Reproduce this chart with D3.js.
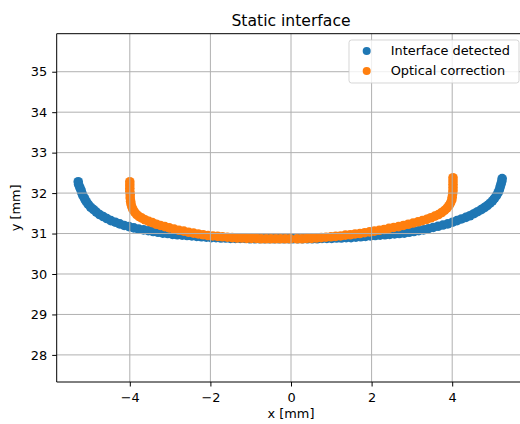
<!DOCTYPE html>
<html>
<head>
<meta charset="utf-8">
<script src="https://cdn.jsdelivr.net/npm/d3@7"></script>
<style>
  body { margin: 0; background: #fff; }
  svg { display: block; font-family: "DejaVu Sans", sans-serif; }
</style>
</head>
<body>
<div class="chartHolder"></div>
<script>
// detected interface points, left to right
var interfaceX = [-5.28, -5.27, -5.24, -5.21, -5.19, -5.16, -5.12, -5.08, -5.03, -4.97, -4.9, -4.83, -4.75, -4.66, -4.57, -4.47, -4.36, -4.25, -4.14, -4.02, -3.9, -3.78, -3.66, -3.54, -3.42, -3.3, -3.18, -3.06, -2.94, -2.82, -2.7, -2.58, -2.46, -2.34, -2.22, -2.1, -1.98, -1.86, -1.74, -1.62, -1.5, -1.38, -1.26, -1.14, -1.02, -0.9, -0.78, -0.66, -0.54, -0.42, -0.3, -0.18, -0.06,
  0.05, 0.17, 0.29, 0.41, 0.53, 0.65, 0.77, 0.89, 1.01, 1.13, 1.25, 1.37, 1.49, 1.61, 1.73, 1.85, 1.97, 2.09, 2.21, 2.33, 2.45, 2.57, 2.69, 2.81, 2.93, 3.05, 3.17, 3.29, 3.41, 3.53, 3.65, 3.77, 3.89, 4.01, 4.12, 4.23, 4.34, 4.44, 4.54, 4.63, 4.72, 4.8, 4.87, 4.94, 5.0, 5.05, 5.1, 5.14, 5.17, 5.19, 5.21, 5.23, 5.24];
var interfaceY = [32.28, 32.21, 32.14, 32.07, 32.0, 31.93, 31.86, 31.79, 31.72, 31.65, 31.59, 31.53, 31.47, 31.42, 31.37, 31.32, 31.28, 31.24, 31.2, 31.17, 31.14, 31.11, 31.09, 31.07, 31.05, 31.03, 31.01, 31.0, 30.98, 30.97, 30.96, 30.95, 30.94, 30.93, 30.92, 30.91, 30.9, 30.9, 30.89, 30.89, 30.88, 30.88, 30.88, 30.88, 30.87, 30.87, 30.87, 30.87, 30.87, 30.87, 30.87, 30.87, 30.87,
  30.87, 30.87, 30.87, 30.87, 30.87, 30.87, 30.88, 30.88, 30.88, 30.89, 30.89, 30.9, 30.9, 30.91, 30.92, 30.93, 30.94, 30.95, 30.96, 30.97, 30.98, 30.99, 31.0, 31.01, 31.03, 31.05, 31.07, 31.09, 31.12, 31.15, 31.18, 31.21, 31.24, 31.28, 31.32, 31.36, 31.4, 31.44, 31.49, 31.54, 31.59, 31.64, 31.69, 31.75, 31.81, 31.87, 31.94, 32.01, 32.08, 32.15, 32.22, 32.29, 32.36];

// optically corrected points, left to right
var opticalX = [-4.0, -4.0, -4.0, -4.0, -3.99, -3.99, -3.98, -3.97, -3.95, -3.92, -3.88, -3.83, -3.77, -3.7, -3.62, -3.53, -3.44, -3.34, -3.24, -3.13, -3.02, -2.9, -2.78, -2.66, -2.54, -2.42, -2.3, -2.18, -2.06, -1.94, -1.82, -1.7, -1.58, -1.46, -1.34, -1.22, -1.1, -0.98, -0.86, -0.74, -0.62, -0.5, -0.38, -0.26, -0.14, -0.02,
  0.15, 0.27, 0.39, 0.51, 0.63, 0.75, 0.87, 0.99, 1.11, 1.23, 1.35, 1.47, 1.59, 1.71, 1.83, 1.95, 2.07, 2.19, 2.31, 2.43, 2.55, 2.67, 2.79, 2.91, 3.03, 3.15, 3.26, 3.37, 3.47, 3.57, 3.66, 3.74, 3.81, 3.87, 3.92, 3.96, 3.99, 4.0, 4.01, 4.02, 4.02, 4.02, 4.02, 4.02];
var opticalY = [32.28, 32.2, 32.12, 32.04, 31.96, 31.88, 31.8, 31.73, 31.66, 31.59, 31.53, 31.47, 31.42, 31.38, 31.34, 31.3, 31.27, 31.23, 31.2, 31.17, 31.14, 31.11, 31.08, 31.06, 31.03, 31.01, 30.99, 30.97, 30.95, 30.94, 30.93, 30.92, 30.91, 30.9, 30.89, 30.89, 30.88, 30.88, 30.88, 30.87, 30.87, 30.87, 30.87, 30.87, 30.87, 30.87,
  30.87, 30.87, 30.88, 30.88, 30.89, 30.9, 30.91, 30.92, 30.93, 30.94, 30.96, 30.97, 30.99, 31.0, 31.02, 31.04, 31.06, 31.08, 31.1, 31.13, 31.15, 31.17, 31.2, 31.23, 31.26, 31.29, 31.32, 31.35, 31.39, 31.43, 31.47, 31.52, 31.57, 31.63, 31.69, 31.76, 31.83, 31.9, 31.98, 32.06, 32.14, 32.22, 32.3, 32.38];

var seriesNames = ["Interface detected", "Optical correction"];
var seriesColors = ["#1f77b4", "#ff7f0e"];
var xTicks = [-4, -2, 0, 2, 4];
var yTicks = [28, 29, 30, 31, 32, 33, 34, 35];

var width = 520;
var height = 424;
var plotLeft = 56.7, plotRight = 525.3, plotTop = 33.7, plotBottom = 382;

var svg = d3
  .select(".chartHolder")
  .append("svg")
  .attr("width", width)
  .attr("height", height);

var xScale = d3.scaleLinear().domain([-5.814, 5.814]).range([plotLeft, plotRight]);
var yScale = d3.scaleLinear().domain([27.33, 35.94]).range([plotBottom, plotTop]);

// points (matplotlib draws the grid above the scatter)
var series = [
  { x: interfaceX, y: interfaceY },
  { x: opticalX, y: opticalY }
];
series.forEach(function (s, k) {
  svg
    .append("g")
    .selectAll("circle")
    .data(s.x)
    .enter()
    .append("circle")
    .attr("cx", (d) => xScale(d))
    .attr("cy", (d, i) => yScale(s.y[i]))
    .attr("r", 4.8)
    .style("fill", seriesColors[k]);
});

// grid
var grid = svg.append("g").attr("stroke", "#b0b0b0").attr("stroke-width", 1);
grid
  .selectAll(".gx")
  .data(xTicks)
  .enter()
  .append("line")
  .attr("x1", (d) => xScale(d))
  .attr("x2", (d) => xScale(d))
  .attr("y1", plotTop)
  .attr("y2", plotBottom);
grid
  .selectAll(".gy")
  .data(yTicks)
  .enter()
  .append("line")
  .attr("x1", plotLeft)
  .attr("x2", plotRight)
  .attr("y1", (d) => yScale(d))
  .attr("y2", (d) => yScale(d));

// axes
var xAxis = d3.axisBottom(xScale).tickValues(xTicks).tickSize(4.5).tickPadding(6).tickFormat(d3.format("d"));
var yAxis = d3.axisLeft(yScale).tickValues(yTicks).tickSize(4.5).tickPadding(5).tickFormat(d3.format("d"));

var xAxisGroup = svg.append("g").attr("transform", "translate(0," + plotBottom + ")").call(xAxis);
var yAxisGroup = svg.append("g").attr("transform", "translate(" + plotLeft + ",0)").call(yAxis);
[xAxisGroup, yAxisGroup].forEach(function (g) {
  g.select(".domain").remove();
  g.selectAll("text").style("font-size", "12.9px").style("font-family", '"DejaVu Sans", sans-serif').attr("fill", "#000");
  g.selectAll("line").attr("stroke", "#000").attr("stroke-width", 1);
});

// spines
var spines = svg.append("g").attr("stroke", "#000").attr("stroke-width", 1).attr("fill", "none");
spines.append("line").attr("x1", plotLeft).attr("x2", plotLeft).attr("y1", plotTop).attr("y2", plotBottom);
spines.append("line").attr("x1", plotLeft).attr("x2", plotRight).attr("y1", plotTop).attr("y2", plotTop);
spines.append("line").attr("x1", plotLeft).attr("x2", plotRight).attr("y1", plotBottom).attr("y2", plotBottom);
spines.append("line").attr("x1", plotRight).attr("x2", plotRight).attr("y1", plotTop).attr("y2", plotBottom);

// labels
svg
  .append("text")
  .attr("x", (plotLeft + plotRight) / 2)
  .attr("y", 26)
  .attr("text-anchor", "middle")
  .style("font-size", "15.6px")
  .text("Static interface");
svg
  .append("text")
  .attr("x", (plotLeft + plotRight) / 2)
  .attr("y", 418)
  .attr("text-anchor", "middle")
  .style("font-size", "12.9px")
  .text("x [mm]");
svg
  .append("text")
  .attr("transform", "translate(19.5," + (plotTop + plotBottom) / 2 + ") rotate(-90)")
  .attr("text-anchor", "middle")
  .style("font-size", "12.9px")
  .text("y [mm]");

// legend
var legend = svg.append("g");
legend
  .append("rect")
  .attr("x", 349)
  .attr("y", 40)
  .attr("width", 170)
  .attr("height", 43)
  .attr("rx", 2.6)
  .style("fill", "#fff")
  .style("fill-opacity", 0.8)
  .style("stroke", "#cccccc")
  .style("stroke-opacity", 0.8);
var rows = legend
  .selectAll(".row")
  .data(seriesNames)
  .enter()
  .append("g")
  .attr("transform", (d, i) => "translate(0," + (51 + i * 20) + ")");
rows
  .append("circle")
  .attr("cx", 366.7)
  .attr("cy", 0)
  .attr("r", 4)
  .style("fill", (d, i) => seriesColors[i]);
rows
  .append("text")
  .attr("x", 390.7)
  .attr("y", 4.3)
  .style("font-size", "12.9px")
  .text((d) => d);
</script>
</body>
</html>
